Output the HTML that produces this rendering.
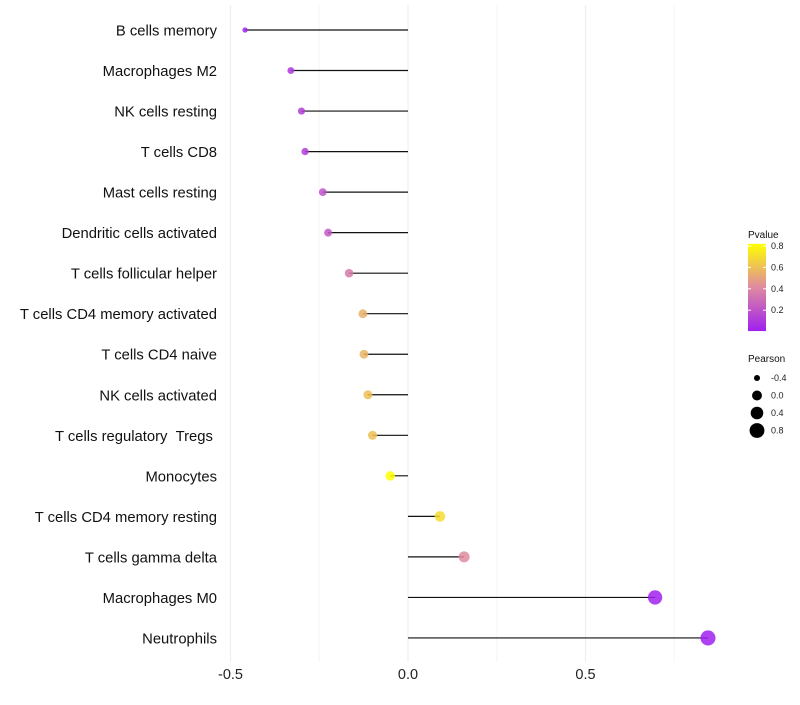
<!DOCTYPE html>
<html><head><meta charset="utf-8"><style>
body{margin:0;background:#fff;font-family:"Liberation Sans",sans-serif}
</style></head><body>
<svg id="chart" width="800" height="700" xmlns="http://www.w3.org/2000/svg" font-family="Liberation Sans, sans-serif"></svg>
<script>
const categories=["B cells memory","Macrophages M2","NK cells resting","T cells CD8","Mast cells resting","Dendritic cells activated","T cells follicular helper","T cells CD4 memory activated","T cells CD4 naive","NK cells activated","T cells regulatory\u00a0\u00a0Tregs\u00a0","Monocytes","T cells CD4 memory resting","T cells gamma delta","Macrophages M0","Neutrophils"];
const pearson=[-0.459,-0.33,-0.30,-0.29,-0.24,-0.225,-0.166,-0.127,-0.124,-0.113,-0.10,-0.05,0.09,0.158,0.696,0.845];
const pvalue=[0.01,0.1,0.12,0.12,0.2,0.22,0.35,0.55,0.56,0.6,0.6,0.82,0.7,0.42,0.01,0.005];
const xTicks=[-0.5,0,0.5];
const xMinor=[-0.25,0.25,0.75];
const pTicks=[0.2,0.4,0.6,0.8];
const sizeTicks=[-0.4,0,0.4,0.8];
const svg=document.getElementById('chart');
const NS='http://www.w3.org/2000/svg';
function mk(t,a,p){const e=document.createElementNS(NS,t);for(const k in a)e.setAttribute(k,a[k]);(p||svg).appendChild(e);return e;}
const x=v=>408+v*355;
const y=i=>30+i*40.53;
const pMin=0.005,pMax=0.82;
function col(p){const t=Math.max(0,Math.min(1,(p-pMin)/(pMax-pMin)));
 const stops=[[0,[160,32,240]],[0.5,[222,138,160]],[1,[255,255,0]]];
 let a=stops[0],b=stops[1];if(t>0.5){a=stops[1];b=stops[2];}
 const u=(t-a[0])/(b[0]-a[0]);const c=a[1].map((v,k)=>Math.round(v+(b[1][k]-v)*u));return `rgb(${c})`;}
const sMin=-0.46,sMax=0.85;
function rad(v){const t=(v-sMin)/(sMax-sMin);return Math.sqrt(7+t*50);}
for(const v of xMinor){const l=mk('line',{x1:x(v),x2:x(v),y1:5,y2:662,stroke:'#f5f5f5','stroke-width':1});}
for(const v of xTicks){const l=mk('line',{x1:x(v),x2:x(v),y1:5,y2:662,stroke:'#eeeeee','stroke-width':1.2});
 const t=mk('text',{x:x(v),y:679,'text-anchor':'middle','font-size':14.5,fill:'#222'});t.textContent=v===0?'0.0':v.toFixed(1);}
categories.forEach((c,i)=>{
 const t=mk('text',{x:217,y:y(i)+5.5,'text-anchor':'end','font-size':14.8,fill:'#111'});t.textContent=c;
 
 const l=mk('line',{x1:x(0),x2:x(pearson[i]),y1:y(i),y2:y(i),stroke:'#111','stroke-width':1.2});
 
 const d=mk('circle',{cx:x(pearson[i]),cy:y(i),r:rad(pearson[i]),fill:col(pvalue[i]),'fill-opacity':0.85});
 
});
const lt=mk('text',{x:748,y:238,'font-size':10,fill:'#111'});lt.textContent='Pvalue';
const defs=mk('defs',{});const g=mk('linearGradient',{id:'pg',x1:0,y1:1,x2:0,y2:0},defs);
for(let k=0;k<=10;k++){mk('stop',{offset:k/10,'stop-color':col(pMin+(pMax-pMin)*k/10)},g);}
const cbY=p=>246+(0.8-p)*107;
const bar=mk('rect',{x:748,y:cbY(pMax),width:18,height:cbY(pMin)-cbY(pMax),fill:'url(#pg)'});
for(const p of pTicks){const t=mk('text',{x:771,y:cbY(p)+3,'font-size':9,fill:'#222'});t.textContent=p.toFixed(1);
 mk('line',{x1:748,x2:751,y1:cbY(p),y2:cbY(p),stroke:'#fff'});mk('line',{x1:763,x2:766,y1:cbY(p),y2:cbY(p),stroke:'#fff'});}
const st=mk('text',{x:748,y:362,'font-size':10,fill:'#111'});st.textContent='Pearson';
sizeTicks.forEach((v,k)=>{const cy=378+k*17.5;
 const c=mk('circle',{cx:757,cy:cy,r:rad(v),fill:'#000'});
 const t=mk('text',{x:771,y:cy+3,'font-size':9,fill:'#222'});t.textContent=v===0?'0.0':v.toFixed(1);});
</script>
</body></html>
